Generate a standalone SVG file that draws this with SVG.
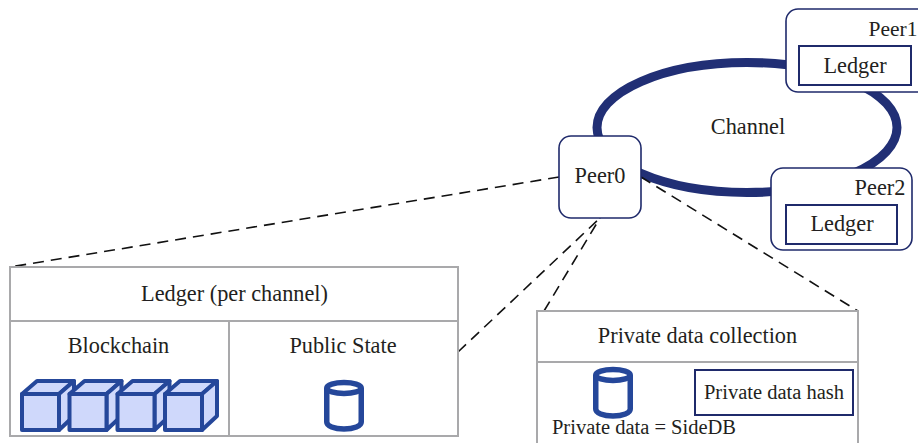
<svg xmlns="http://www.w3.org/2000/svg" width="918" height="443" viewBox="0 0 918 443">
<style>
text{font-family:"Liberation Serif","Times New Roman",serif;font-size:22.3px;fill:#231f20;text-anchor:middle}
text.sm{font-size:20.5px}
.peer{fill:#fff;stroke:#1f2a6b;stroke-width:1.6}
.inner{fill:#fff;stroke:#1f2a6b;stroke-width:2}
.tbl{fill:#fff;stroke:#a9a9ab;stroke-width:2}
.dash{fill:none;stroke:#111;stroke-width:1.6;stroke-dasharray:11 7}
.cube{fill:#cfd8fb;stroke:#25479a;stroke-width:4;stroke-linejoin:round}
.cyl{fill:#fff;stroke:#25479a;stroke-width:5.5}
</style>
<defs>
<g id="cube"><path class="cube" d="M0 0L15 -13H52L37 0Z"/><path class="cube" d="M37 0L52 -13V22L37 36Z"/><rect class="cube" x="0" y="0" width="37" height="36"/></g>
<g id="cyl"><path class="cyl" d="M2.750 8V42C2.750 46 10 49 20 49S37.250 46 37.250 42V8"/><ellipse class="cyl" cx="20" cy="8" rx="17.250" ry="5.500"/></g>
</defs>
<g id="connectors">
<ellipse cx="747" cy="127.500" rx="150" ry="65" fill="none" stroke="#212f75" stroke-width="9"/>
<path class="dash" d="M559 177L10 267"/>
<path class="dash" d="M458 352L600 218"/>
<path class="dash" d="M544 311L600 218"/>
<path class="dash" d="M641 177L858 311"/>
</g>
<g id="channel"><text x="748" y="134">Channel</text></g>
<g id="peer0"><rect class="peer" x="559" y="136" width="82" height="82" rx="12"/><text x="600" y="183">Peer0</text></g>
<g id="peer1"><rect class="peer" x="786" y="9" width="150" height="83" rx="12"/><text x="917.500" y="36" style="text-anchor:end;font-size:21.5px">Peer1</text><rect class="inner" x="799" y="46" width="112" height="39"/><text x="855" y="73">Ledger</text></g>
<g id="peer2"><rect class="peer" x="771" y="168" width="141" height="82" rx="12"/><text x="880" y="195">Peer2</text><rect class="inner" x="786" y="205" width="111" height="39"/><text x="842" y="231">Ledger</text></g>
<g id="ledger-table">
<rect class="tbl" x="10" y="267" width="448" height="169"/>
<path class="tbl" d="M10 321H458M229 321V436"/>
<text x="234.500" y="301">Ledger (per channel)</text>
<text x="118.500" y="353">Blockchain</text>
<text x="343" y="353">Public State</text>
</g>
<g id="blockchain">
<use href="#cube" x="22" y="394"/><use href="#cube" x="69.500" y="394"/><use href="#cube" x="117.500" y="394"/><use href="#cube" x="165" y="394"/>
</g>
<g id="public-state"><use href="#cyl" x="324" y="380"/></g>
<g id="private-table">
<path class="tbl" d="M537 445V311H858V445M537 362H858"/>
<text x="697.500" y="343">Private data collection</text>
</g>
<g id="private-db"><use href="#cyl" x="593" y="367"/><text class="sm" x="644" y="434">Private data = SideDB</text></g>
<g id="private-hash"><rect class="inner" x="695" y="370" width="158" height="45"/><text class="sm" x="774" y="399">Private data hash</text></g>
</svg>
